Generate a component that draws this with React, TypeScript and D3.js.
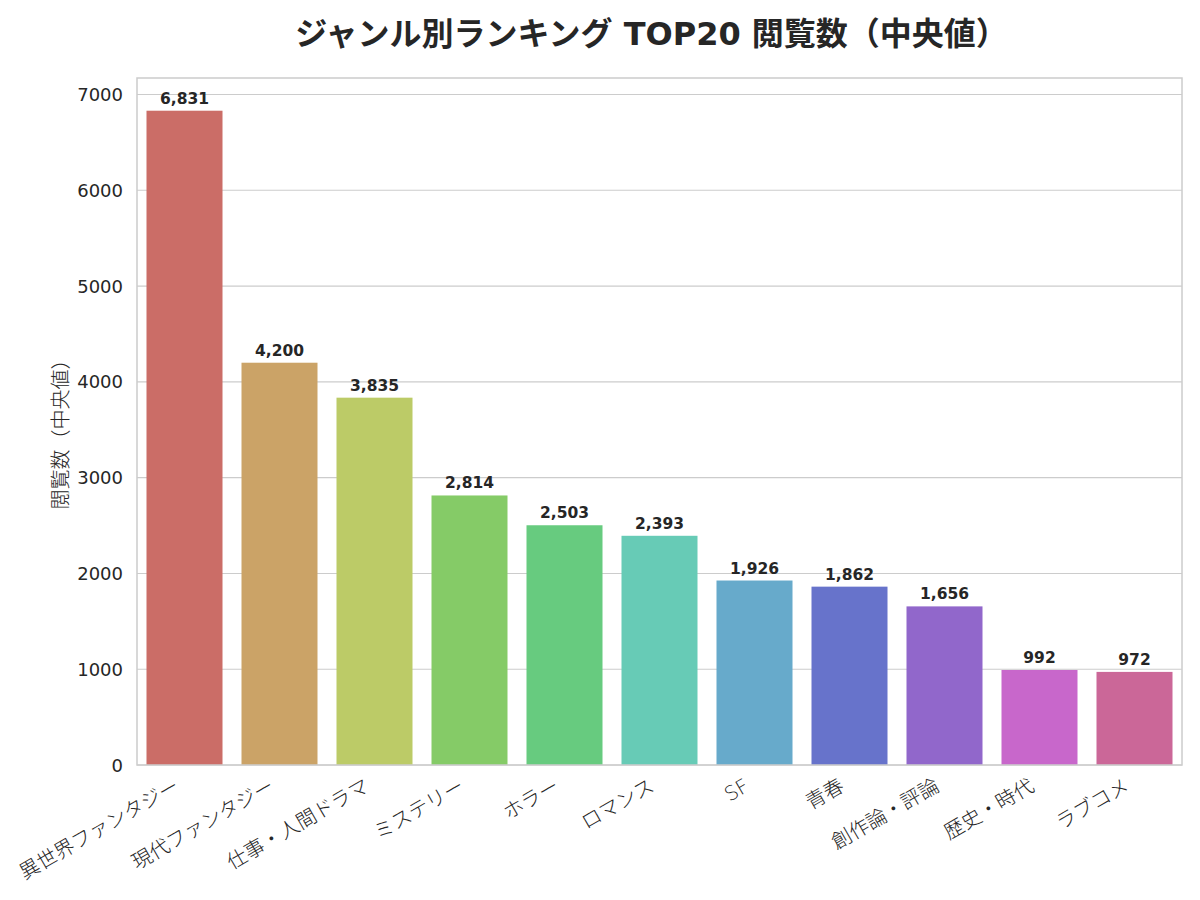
import React from 'react';
import * as d3 from 'd3';

// genre names (x axis) and median view counts
const genres = [
    '異世界ファンタジー',
    '現代ファンタジー',
    '仕事・人間ドラマ',
    'ミステリー',
    'ホラー',
    'ロマンス',
    'SF',
    '青春',
    '創作論・評論',
    '歴史・時代',
    'ラブコメ',
];
const medians = [6831, 4200, 3835, 2814, 2503, 2393, 1926, 1862, 1656, 992, 972];
const yTicks = [0, 1000, 2000, 3000, 4000, 5000, 6000, 7000];

const title = 'ジャンル別ランキング TOP20 閲覧数（中央値）';
const yLabel = '閲覧数（中央値）';

const width = 1200;
const height = 900;
const margin = { top: 78, right: 18, bottom: 135, left: 137 };

const FONT = '"DejaVu Sans", "Noto Sans CJK JP", sans-serif';
const TEXT = '#262626';
const GRID = '#cccccc';

export default function App() {
    const x = d3.scaleBand<string>()
        .domain(genres)
        .range([margin.left, width - margin.right])
        .paddingInner(0.2)
        .paddingOuter(0.1);

    const y = d3.scaleLinear()
        .domain([0, d3.max(medians)! * 1.05])
        .range([height - margin.bottom, margin.top]);

    // seaborn "hls" palette, desaturated like barplot does
    const colors = genres.map((_, i) => {
        const h = ((i / genres.length + 0.01) % 1) * 360;
        return d3.hsl(h, 0.65 * 0.75, 0.6).formatHex();
    });

    const fmt = d3.format(',');
    const x0 = margin.left;
    const x1 = width - margin.right;
    const y0 = height - margin.bottom;
    const y1 = margin.top;

    return (
        <svg width={width} height={height} viewBox={`0 0 ${width} ${height}`}
            style={{ position: 'absolute', left: 0, top: 0, background: '#fff' }}
            fontFamily={FONT}>
            <rect x={0} y={0} width={width} height={height} fill="#fff" />

            {/* title */}
            <text x={(x0 + x1) / 2 - 8} y={34} textAnchor="middle" dominantBaseline="central"
                fontSize={32} fontWeight="bold" fill={TEXT}>{title}</text>

            {/* horizontal grid + y tick labels */}
            {yTicks.map(t => (
                <g key={t}>
                    <line x1={x0} x2={x1} y1={y(t)} y2={y(t)} stroke={GRID} strokeWidth={1.1} />
                    <text x={123} y={y(t)} textAnchor="end" dominantBaseline="central"
                        fontSize={18} fill={TEXT}>{t}</text>
                </g>
            ))}

            {/* bars */}
            {genres.map((g, i) => (
                <rect key={g} x={x(g)} y={y(medians[i])} width={x.bandwidth()}
                    height={y(0) - y(medians[i])} fill={colors[i]} />
            ))}

            {/* value labels */}
            {genres.map((g, i) => (
                <text key={g} x={x(g)! + x.bandwidth() / 2} y={y(medians[i]) - 7}
                    textAnchor="middle" fontSize={15.5} fontWeight="bold" fill={TEXT}>
                    {fmt(medians[i])}
                </text>
            ))}

            {/* spines */}
            <rect x={x0} y={y1} width={x1 - x0} height={y0 - y1} fill="none"
                stroke={GRID} strokeWidth={1.5} />

            {/* x tick labels, rotated */}
            {genres.map(g => {
                const cx = x(g)! + x.bandwidth() / 2 - 4;
                const cy = 790;
                return (
                    <text key={g} x={cx} y={cy} textAnchor="end" fontSize={20} fontWeight={300}
                        fill={TEXT} transform={`rotate(-30, ${cx}, ${cy})`}>{g}</text>
                );
            })}

            {/* y axis label */}
            <text x={61} y={(y0 + y1) / 2 + 8} textAnchor="middle" dominantBaseline="central"
                fontSize={20} fontWeight={300} fill={TEXT}
                transform={`rotate(-90, 61, ${(y0 + y1) / 2 + 8})`}>
                {yLabel}
            </text>
        </svg>
    );
}
